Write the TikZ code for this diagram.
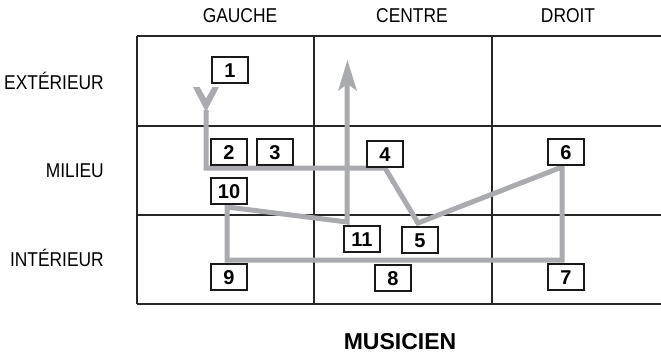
\documentclass[tikz,border=0pt]{standalone}
\usepackage{fontspec}
\setmainfont{Liberation Sans}
\newfontfamily\condfont{Liberation Sans}[FakeStretch=0.87]
\begin{document}
\begin{tikzpicture}[x=1pt,y=-1pt,
  gridline/.style={line width=1.2pt,draw=black!85},
  lab/.style={font=\condfont\fontsize{20}{20}\selectfont,inner sep=0pt},
  numbox/.style={draw=black!90,line width=1.4pt,fill=white,minimum width=36pt,minimum height=26pt,inner sep=0pt,text height=14.3pt,text depth=0pt,font=\bfseries\fontsize{20}{20}\selectfont},
  route/.style={draw=pathgray,line width=5pt,line join=miter},
  tipshape/.style={fill=pathgray,draw=none}]
\definecolor{pathgray}{RGB}{169,171,174}
\useasboundingbox (0,0) rectangle (661,357);
% grid
\draw[gridline] (137,36) -- (661,36);
\draw[gridline] (137,126) -- (661,126);
\draw[gridline] (137,215) -- (661,215);
\draw[gridline] (137,304) -- (661,304);
\draw[gridline] (137,36) -- (137,304);
\draw[gridline] (314,36) -- (314,304);
\draw[gridline] (492,36) -- (492,304);
% headers
\node[lab,anchor=base] (hg) at (240,22) {GAUCHE};
\node[lab,anchor=base] (hc) at (412,22) {CENTRE};
\node[lab,anchor=base] (hd) at (568,22) {DROIT};
\node[lab,anchor=base east] (re) at (104,89) {EXTÉRIEUR};
\node[lab,anchor=base east] (rm) at (104,177) {MILIEU};
\node[lab,anchor=base east] (ri) at (104,266) {INTÉRIEUR};
\node[inner sep=0pt,anchor=base,font=\bfseries\fontsize{23}{23}\selectfont] (mus) at (400,349) {MUSICIEN};
% route
\coordinate (p0) at (206,110);
\coordinate (p1) at (206,168);
\coordinate (p2) at (385,168);
\coordinate (p3) at (418,223);
\coordinate (p4) at (562,167);
\coordinate (p5) at (562,260);
\coordinate (p6) at (227,260);
\coordinate (p7) at (227,207);
\coordinate (p8) at (347,222);
\coordinate (p9) at (347,84);
\draw[route] (p0) -- (p1) -- (p2) -- (p3) -- (p4) -- (p5) -- (p6) -- (p7) -- (p8) -- (p9);
\fill[tipshape] (193,87) -- (199.5,87) -- (206,98.5) -- (212.5,87) -- (219,87) -- (206,112) -- cycle;
\fill[tipshape] (347.5,60) -- (357,91) -- (347.5,84) -- (338,91) -- cycle;
% boxes
\node[numbox] (b1) at (230,70) {1};
\node[numbox] (b2) at (229,152) {2};
\node[numbox] (b3) at (275,152) {3};
\node[numbox] (b4) at (385,154) {4};
\node[numbox] (b5) at (420,240) {5};
\node[numbox] (b6) at (566,152) {6};
\node[numbox] (b7) at (566,277) {7};
\node[numbox] (b8) at (393,278) {8};
\node[numbox] (b9) at (229,277) {9};
\node[numbox] (b10) at (229,191) {10};
\node[numbox] (b11) at (362,239) {11};
\end{tikzpicture}
\end{document}
